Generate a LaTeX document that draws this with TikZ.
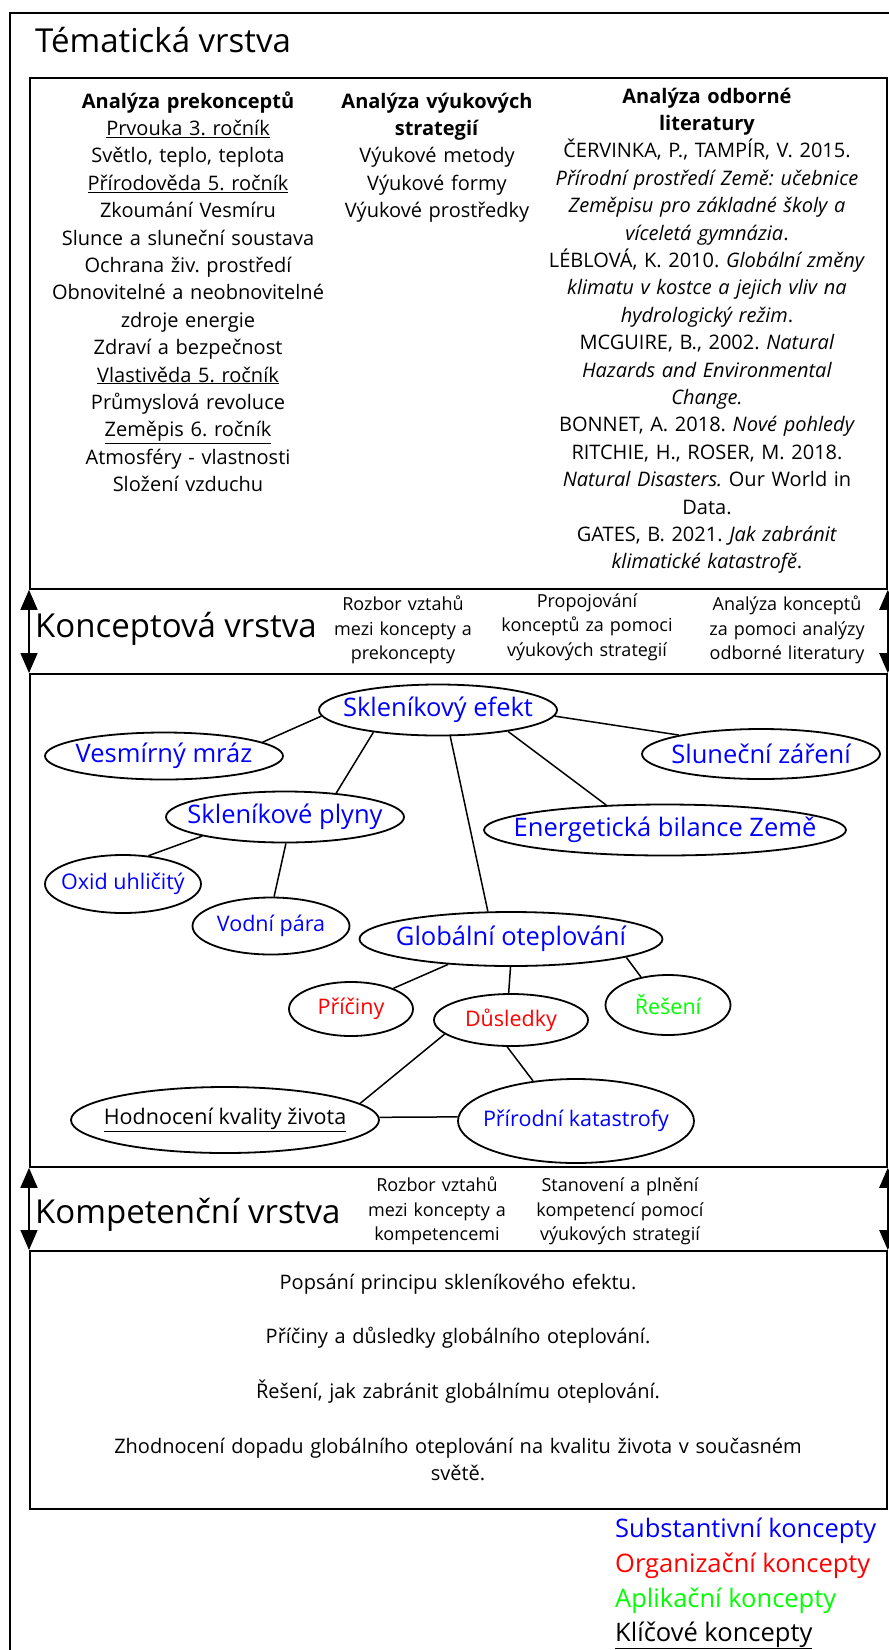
\documentclass[tikz,border=0pt]{standalone}
\usepackage{fontspec}
\setmainfont{Open Sans}
\usetikzlibrary{shapes.geometric, arrows.meta}
\frenchspacing

\newcommand{\nadpis}{\fontsize{33}{40}\selectfont}
\newcommand{\velke}{\fontsize{25.5}{30}\selectfont}
\newcommand{\mensi}{\fontsize{21.5}{27}\selectfont}
\newcommand{\stredni}{\fontsize{20}{27.4}\selectfont}
\newcommand{\drobne}{\fontsize{18}{24.5}\selectfont}

\tikzset{
  vrstva/.style={draw, line width=1.8pt, inner sep=0pt, anchor=north west},
  titulek/.style={font=\nadpis, anchor=base west, inner sep=0pt},
  pojem/.style={draw, ellipse, line width=1.8pt, inner sep=0pt},
  spoj/.style={line width=1.5pt},
  sipky/.style={line width=1.5pt, {Triangle[width=17pt,length=20pt]}-{Triangle[width=17pt,length=20pt]}},
  sloupec/.style={align=center, anchor=base, inner sep=0pt, font=\stredni},
  popis/.style={align=center, anchor=base, inner sep=0pt, font=\drobne, text width=200pt},
  legenda/.style={font=\velke, anchor=base west, inner sep=0pt},
}

\begin{document}
\begin{tikzpicture}[x=1pt, y=-1pt]
  \useasboundingbox (0,0) rectangle (889,1650);
  % outer frame
  \draw[line width=1.8pt] (10,1650) |- (889,13);

  % layer boxes
  \node[vrstva, minimum width=857pt, minimum height=511pt] (tema) at (29,77) {};
  \node[vrstva, minimum width=857pt, minimum height=493pt] (mapa) at (29,673) {};
  \node[vrstva, minimum width=857pt, minimum height=258pt] (komp) at (29,1250) {};

  % layer titles
  \node[titulek] (ttema) at (35,52) {Tématická vrstva};
  \node[titulek] (tkoncept) at (35,637) {Konceptová vrstva};
  \node[titulek] (tkomp) at (35,1223) {Kompetenční vrstva};

  % arrows between layers
  \draw[sipky] (tema.south west) -- (mapa.north west);
  \draw[sipky] (tema.south east) -- (mapa.north east);
  \draw[sipky] (mapa.south west) -- (komp.north west);
  \draw[sipky] (mapa.south east) -- (komp.north east);

  % thematic layer: three columns
  \node[sloupec, text width=320pt] (prekoncepty) at (188,108) {\textbf{Analýza prekonceptů}\\
    \underline{Prvouka 3. ročník}\\
    Světlo, teplo, teplota\\
    \underline{Přírodověda 5. ročník}\\
    Zkoumání Vesmíru\\
    Slunce a sluneční soustava\\
    Ochrana živ. prostředí\\
    Obnovitelné a neobnovitelné\\
    zdroje energie\\
    Zdraví a bezpečnost\\
    \underline{Vlastivěda 5. ročník}\\
    Průmyslová revoluce\\
    \underline{Zeměpis 6. ročník}\\
    Atmosféry - vlastnosti\\
    Složení vzduchu};
  \node[sloupec, text width=210pt] (strategie) at (437,108) {\textbf{Analýza výukových}\\
    \textbf{strategií}\\
    Výukové metody\\
    Výukové formy\\
    Výukové prostředky};
  \node[sloupec, text width=340pt] (literatura) at (707,103) {\textbf{Analýza odborné}\\
    \textbf{literatury}\\
    ČERVINKA, P., TAMPÍR, V. 2015.\\
    \textit{Přírodní prostředí Země: učebnice}\\
    \textit{Zeměpisu pro základné školy a}\\
    \textit{víceletá gymnázia}.\\
    LÉBLOVÁ, K. 2010. \textit{Globální změny}\\
    \textit{klimatu v kostce a jejich vliv na}\\
    \textit{hydrologický režim}.\\
    MCGUIRE, B., 2002. \textit{Natural}\\
    \textit{Hazards and Environmental}\\
    \textit{Change.}\\
    BONNET, A. 2018. \textit{Nové pohledy}\\
    RITCHIE, H., ROSER, M. 2018.\\
    \textit{Natural Disasters.} Our World in\\
    Data.\\
    GATES, B. 2021. \textit{Jak zabránit}\\
    \textit{klimatické katastrofě}.};

  % concept layer band
  \node[popis] (rozbor1) at (403,610.5) {Rozbor vztahů\\ mezi koncepty a\\ prekoncepty};
  \node[popis] (propojeni) at (587,607) {Propojování\\ konceptů za pomoci\\ výukových strategií};
  \node[popis] (analyza) at (787,610.5) {Analýza konceptů\\ za pomoci analýzy\\ odborné literatury};

  % concept map
  \node[pojem, minimum width=238pt, minimum height=51pt, label={[text=blue, font=\velke]center:Skleníkový efekt}] (efekt) at (438,710) {};
  \node[pojem, minimum width=238pt, minimum height=47pt, label={[text=blue, font=\velke]center:Vesmírný mráz}] (mraz) at (164,756) {};
  \node[pojem, minimum width=238pt, minimum height=50pt, label={[text=blue, font=\velke]center:Sluneční záření}] (zareni) at (761,754) {};
  \node[pojem, minimum width=238pt, minimum height=51pt, label={[text=blue, font=\velke]center:Skleníkové plyny}] (plyny) at (285,817) {};
  \node[pojem, minimum width=362pt, minimum height=51pt, label={[text=blue, font=\velke]center:Energetická bilance Země}] (bilance) at (665,830) {};
  \node[pojem, minimum width=156pt, minimum height=58pt, label={[text=blue, font=\mensi]center:Oxid uhličitý}] (oxid) at (123,884) {};
  \node[pojem, minimum width=157pt, minimum height=57pt, label={[text=blue, font=\mensi]center:Vodní pára}] (para) at (271,926) {};
  \node[pojem, minimum width=303pt, minimum height=54pt, label={[text=blue, font=\velke]center:Globální oteplování}] (oteplovani) at (511,939) {};
  \node[pojem, minimum width=124pt, minimum height=54pt, label={[text=red, font=\mensi]center:Příčiny}] (priciny) at (351,1009) {};
  \node[pojem, minimum width=154pt, minimum height=52pt, label={[text=red, font=\mensi]center:Důsledky}] (dusledky) at (511,1020) {};
  \node[pojem, minimum width=125pt, minimum height=60pt, label={[text=green, font=\mensi]center:Řešení}] (reseni) at (668,1005) {};
  \node[pojem, minimum width=308pt, minimum height=66pt, label={[font=\mensi]center:{\underline{Hodnocení kvality života}}}] (kvalita) at (225,1120) {};
  \node[pojem, minimum width=236pt, minimum height=84pt, label={[text=blue, font=\mensi]center:Přírodní katastrofy}] (katastrofy) at (576,1121) {};

  % links
  \draw[spoj] (efekt.183) -- (mraz.8);
  \draw[spoj] (efekt.199) -- (plyny.25);
  \draw[spoj] (efekt.-65) -- (oteplovani.130);
  \draw[spoj] (efekt.-17) -- (bilance.157);
  \draw[spoj] (efekt.-3) -- (zareni.167);
  \draw[spoj] (plyny.193) -- (oxid.48);
  \draw[spoj] (plyny.-88) -- (para.84);
  \draw[spoj] (oteplovani.202) -- (priciny.26);
  \draw[spoj] (oteplovani.-91) -- (dusledky.95);
  \draw[spoj] (oteplovani.-9) -- (reseni.134);
  \draw[spoj] (dusledky.192) -- (kvalita.7);
  \draw[spoj] (dusledky.-98) -- (katastrofy.137);
  \draw[spoj] (kvalita.1) -- (katastrofy.178);

  % competence layer band
  \node[popis] (rozbor2) at (437,1191.5) {Rozbor vztahů\\ mezi koncepty a\\ kompetencemi};
  \node[popis] (stanoveni) at (620,1191.5) {Stanovení a plnění\\ kompetencí pomocí\\ výukových strategií};

  % competences
  \node[sloupec, text width=800pt] (cile) at (458,1289) {Popsání principu skleníkového efektu.\\[27.4pt]
    Příčiny a důsledky globálního oteplování.\\[27.4pt]
    Řešení, jak zabránit globálnímu oteplování.\\[27.4pt]
    Zhodnocení dopadu globálního oteplování na kvalitu života v současném\\
    světě.};

  % legend
  \node[legenda, text=blue] (leg1) at (615,1537) {Substantivní koncepty};
  \node[legenda, text=red] (leg2) at (615,1572) {Organizační koncepty};
  \node[legenda, text=green] (leg3) at (615,1607) {Aplikační koncepty};
  \node[legenda] (leg4) at (615,1641) {\underline{Klíčové koncepty}};
\end{tikzpicture}
\end{document}
